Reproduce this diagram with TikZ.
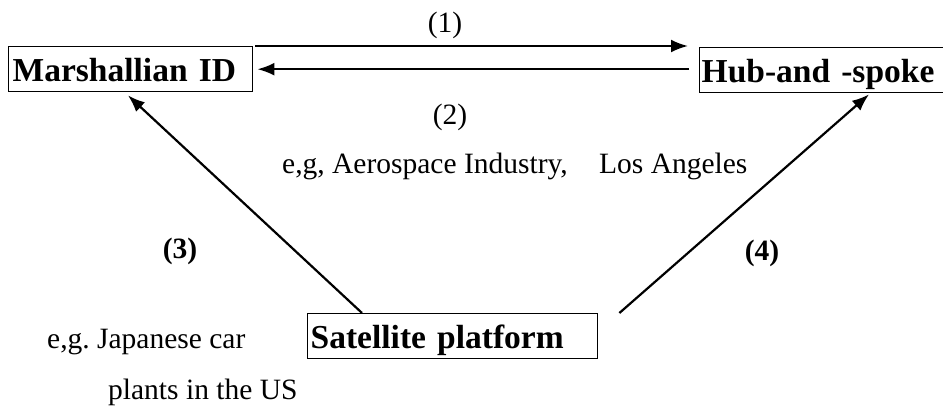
\documentclass[tikz,border=0pt]{standalone}
\usepackage{fontspec}
\setmainfont{Liberation Serif}
\usetikzlibrary{arrows.meta}

\begin{document}
\begin{tikzpicture}[x=1pt,y=-1pt,>={Latex[length=17pt,width=13pt]},
    every node/.style={font=\fontsize{29.5}{34}\selectfont},
    box/.style={draw,line width=1.4pt,align=left,anchor=north west,inner xsep=3pt,inner ysep=1pt,
      text height=34pt,text depth=9pt,font=\fontsize{33.5}{38}\selectfont\bfseries},
    link/.style={->,line width=2.2pt},
    tag/.style={font=\fontsize{29.5}{34}\selectfont\bfseries}]
  \useasboundingbox (0,0) rectangle (943,410);
  % the three kinds of district
  \node[box,text width=236pt,inner xsep=4pt] (mid) at (8,46) {Marshallian ID};
  \node[box,text width=252pt,inner xsep=2pt] (hub) at (699,47) {Hub-and -spoke};
  \node[box,text width=284pt] (sat) at (307,313) {Satellite platform};
  % transitions
  \draw[link,shorten <=2pt,shorten >=11pt] (mid.north east) -- (mid.north east -| hub.west);
  \draw[link,shorten <=10pt,shorten >=4pt] (mid.east -| hub.west) -- (mid.east);
  \draw[link] ([xshift=55pt]sat.north west) -- ([xshift=120pt,yshift=-3pt]mid.south west);
  \draw[link] ([xshift=21pt]sat.north east) -- ([xshift=170pt,yshift=-1pt]hub.south west);
  % labels
  \node (n1) at (445,25) {(1)};
  \node (n2) at (450,117) {(2)};
  \node[anchor=base west,inner sep=0pt] (aero) at (282,173) {e,g, Aerospace Industry,\hspace{24pt} Los Angeles};
  \node[tag] (n3) at (180,251) {(3)};
  \node[tag] (n4) at (762,253) {(4)};
  \node[anchor=base west,inner sep=0pt] (jp) at (47,348) {e,g.\ Japanese car};
  \node[anchor=base west,inner sep=0pt] (us) at (108,399) {plants in the US};
\end{tikzpicture}
\end{document}
